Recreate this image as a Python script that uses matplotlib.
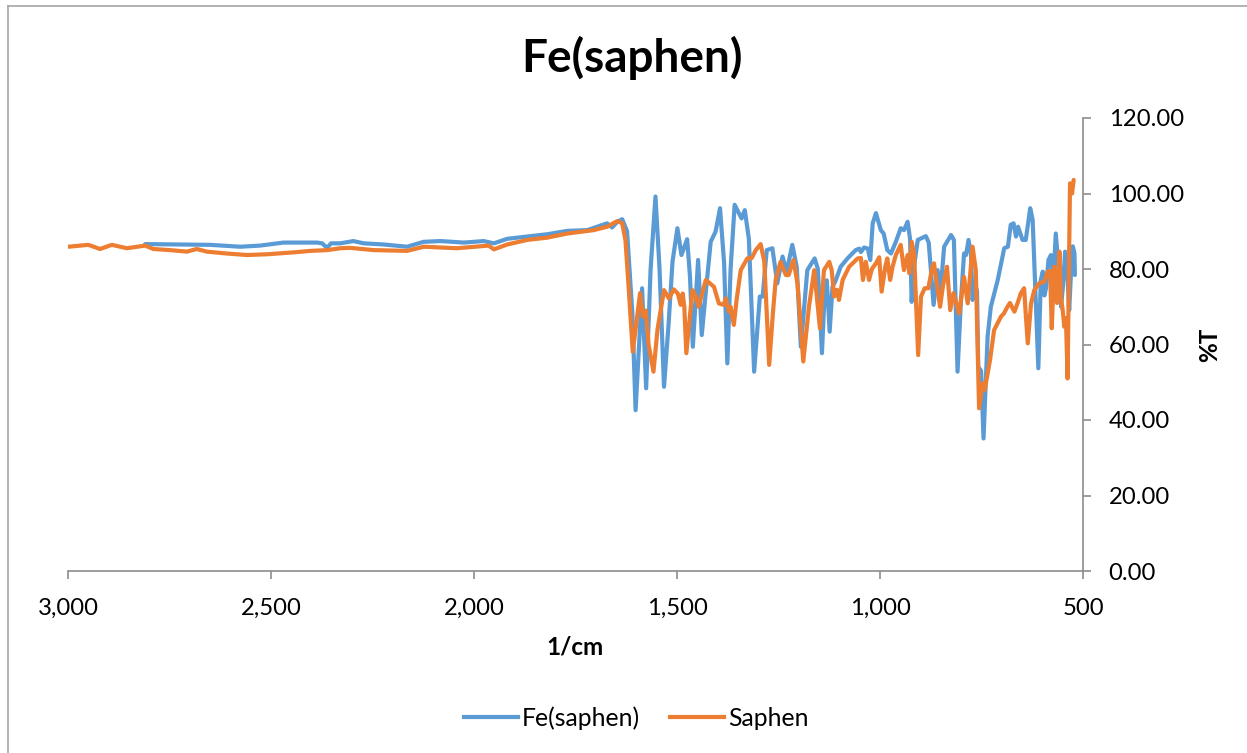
import matplotlib
matplotlib.use("Agg")
import matplotlib.pyplot as plt
from matplotlib.ticker import FuncFormatter, MultipleLocator
from matplotlib.lines import Line2D

# ---------------- data ----------------
fe_wavenumber = [2810, 2732, 2650, 2576, 2527, 2469, 2387, 2374, 2362, 2352, 2329, 2297, 2272, 2223,
                 2165, 2124, 2083, 2025, 1976, 1951, 1918, 1869, 1820, 1770, 1721, 1672, 1660, 1647,
                 1635, 1623, 1610, 1602, 1586, 1576, 1565, 1553, 1543, 1532, 1521, 1511, 1499, 1489,
                 1475, 1468, 1461, 1448, 1439, 1429, 1417, 1405, 1394, 1384, 1376, 1368, 1358, 1341,
                 1333, 1323, 1310, 1296, 1289, 1279, 1265, 1253, 1240, 1230, 1216, 1205, 1195, 1179,
                 1161, 1153, 1143, 1136, 1131, 1124, 1117, 1109, 1097, 1080, 1060, 1051, 1047, 1039,
                 1030, 1024, 1018, 1010, 998, 991, 982, 973, 961, 949, 941, 932, 926, 922, 917, 907,
                 887, 880, 868, 858, 852, 842, 825, 818, 809, 801, 793, 788, 782, 776, 772, 766, 761,
                 758, 751, 745, 735, 727, 710, 694, 685, 678, 671, 665, 660, 649, 641, 630, 624, 616,
                 610, 604, 599, 595, 591, 585, 579, 573, 567, 560, 554, 549, 544, 539, 534, 530, 525,
                 521, 520]
fe_T = [86.6, 86.5, 86.4, 85.9, 86.2, 87.0, 87.0, 86.8, 85.6, 86.8, 86.8, 87.4, 86.8, 86.5,
        85.9, 87.2, 87.4, 87.0, 87.4, 86.8, 88.0, 88.6, 89.2, 90.1, 90.3, 92.1, 91.0, 92.5,
        93.2, 90.0, 68.3, 42.6, 74.9, 48.4, 80.0, 99.2, 80.0, 48.8, 65.0, 82.0, 90.8, 83.7,
        87.9, 78.0, 59.4, 82.4, 62.5, 74.0, 87.2, 89.9, 96.1, 81.6, 55.0, 80.0, 97.0, 93.4,
        95.6, 88.0, 52.8, 72.7, 72.7, 85.0, 85.5, 76.2, 83.3, 79.3, 86.4, 80.5, 59.4, 79.7,
        82.8, 80.0, 57.7, 74.4, 77.0, 63.4, 75.3, 77.0, 80.6, 82.8, 85.0, 85.4, 84.5, 85.7,
        85.4, 82.4, 92.1, 94.8, 90.3, 89.4, 85.0, 84.1, 87.2, 90.8, 90.3, 92.5, 88.0, 71.3, 80.0, 87.7,
        88.7, 87.0, 70.5, 79.7, 72.7, 85.9, 89.0, 87.7, 52.8, 70.9, 84.1, 83.7, 87.7, 84.1, 71.8, 76.2, 74.0,
        54.1, 53.0, 35.1, 62.1, 70.0, 77.1, 85.5, 85.9, 91.7, 92.1, 88.6, 91.2, 87.7, 87.7, 96.1, 93.0, 70.9,
        53.7, 77.1, 79.3, 73.0, 75.0, 82.4, 83.7, 77.1, 89.4, 80.0, 70.0, 76.0, 84.6, 80.0, 69.1, 78.0, 86.0,
        84.1, 78.4]

saphen_wavenumber = [2999, 2979, 2950, 2921, 2892, 2855, 2810, 2790, 2749, 2707, 2683, 2658, 2609, 2559,
                     2510, 2445, 2403, 2362, 2329, 2305, 2247, 2165, 2124, 2042, 1964, 1951, 1918, 1869,
                     1820, 1770, 1705, 1672, 1647, 1635, 1627, 1619, 1609, 1602, 1591, 1584, 1577, 1570,
                     1558, 1548, 1532, 1520, 1508, 1498, 1491, 1486, 1482, 1477, 1462, 1455, 1447, 1429,
                     1409, 1397, 1385, 1380, 1372, 1368, 1360, 1353, 1343, 1327, 1316, 1306, 1294, 1285,
                     1273, 1264, 1257, 1245, 1232, 1225, 1213, 1203, 1189, 1175, 1162, 1148, 1138, 1125,
                     1119, 1113, 1106, 1101, 1092, 1076, 1055, 1047, 1042, 1035, 1027, 1020, 1010, 1002,
                     996, 987, 982, 975, 969, 961, 949, 941, 932, 928, 922, 916, 906, 899, 890, 881, 871,
                     867, 860, 852, 845, 835, 827, 819, 805, 793, 784, 772, 764, 756, 747, 742, 729, 719,
                     702, 695, 686, 680, 669, 661, 653, 645, 641, 636, 628, 620, 608, 595, 587, 581, 577,
                     571, 564, 558, 554, 550, 546, 542, 538, 532, 527, 523]
saphen_T = [85.9, 86.1, 86.4, 85.3, 86.4, 85.5, 86.2, 85.3, 85.0, 84.6, 85.3, 84.6, 84.1, 83.7,
            83.9, 84.4, 84.8, 85.0, 85.5, 85.6, 85.0, 84.8, 85.9, 85.5, 86.2, 85.2, 86.5, 87.7,
            88.3, 89.4, 90.3, 91.2, 92.7, 92.1, 87.7, 75.0, 58.1, 64.0, 73.6, 67.4, 69.0, 60.0,
            52.8, 64.0, 74.4, 72.2, 74.6, 73.5, 70.5, 73.5, 70.0, 57.7, 74.4, 73.0, 70.0, 77.1,
            75.3, 70.9, 70.5, 72.2, 68.7, 70.0, 65.2, 72.0, 79.7, 82.8, 82.9, 85.0, 86.6, 82.0,
            54.6, 68.0, 77.1, 81.9, 78.4, 78.4, 82.4, 76.0, 55.5, 70.0, 79.7, 64.3, 79.7, 81.9,
            79.7, 72.7, 74.5, 71.8, 77.1, 80.6, 82.8, 82.9, 77.1, 81.9, 77.1, 80.0, 81.5, 83.1,
            74.0, 80.6, 82.8, 77.1, 80.6, 83.7, 86.4, 79.7, 83.7, 78.9, 87.2, 84.1, 57.2, 72.7, 74.9, 74.9, 80.6,
            81.5, 76.0, 70.0, 75.5, 80.6, 69.1, 73.6, 68.2, 77.9, 70.9, 85.9, 79.7, 43.1, 49.7, 48.0, 55.9, 63.8,
            67.4, 68.2, 70.0, 71.0, 68.7, 71.0, 73.6, 74.9, 68.0, 60.3, 70.9, 74.4, 76.2, 76.7, 79.3, 79.5, 64.3,
            80.6, 71.0, 84.6, 72.0, 69.1, 64.7, 67.0, 51.0, 102.7, 100.0, 103.6]

series_labels = ["Fe(saphen)", "Saphen"]
title_text = "Fe(saphen)"
x_label = "1/cm"
y_label = "%T"

# ---------------- figure ----------------
W, H = 1247, 753
plt.rcParams['font.family'] = ['Lato', 'DejaVu Sans']
fig = plt.figure(figsize=(W / 100, H / 100), dpi=100)
ax = fig.add_axes([68 / W, (H - 571) / H, (1083 - 68) / W, (571 - 118) / H])

blue = "#5B9BD5"
orange = "#ED7D31"
LW = 3.0
ax.plot(fe_wavenumber, fe_T, color=blue, lw=LW, label=series_labels[0],
        solid_joinstyle="round", solid_capstyle="round")
ax.plot(saphen_wavenumber, saphen_T, color=orange, lw=LW, label=series_labels[1],
        solid_joinstyle="round", solid_capstyle="round")

ax.set_xlim(3000, 500)
ax.set_ylim(0, 120)
ax.xaxis.set_major_locator(MultipleLocator(500))
ax.yaxis.set_major_locator(MultipleLocator(20))
ax.xaxis.set_major_formatter(FuncFormatter(lambda v, p: f"{v:,.0f}"))
ax.yaxis.set_major_formatter(FuncFormatter(lambda v, p: f"{v:.2f}"))

ax.yaxis.tick_right()
ax.yaxis.set_label_position("right")
for s in ["top", "left"]:
    ax.spines[s].set_visible(False)
for s in ["bottom", "right"]:
    ax.spines[s].set_color("#8C8C8C")
    ax.spines[s].set_linewidth(1.2)
ax.tick_params(axis="both", direction="out", length=5.5, width=1.2, color="#8C8C8C",
               labelsize=17.2, labelcolor="black")
ax.tick_params(axis="x", pad=14)
ax.tick_params(axis="y", pad=13)

fig.text(575 / W, 1 - 647 / H, x_label, ha="center", va="center", fontsize=17.5, fontweight="bold")
fig.text(1210 / W, 1 - 345 / H, y_label, ha="center", va="center", fontsize=17.5,
         fontweight="bold", rotation=90)
fig.text(632 / W, 1 - 58 / H, title_text, ha="center", va="center", fontsize=33, fontweight="bold")

handles = [Line2D([], [], color=blue, lw=LW), Line2D([], [], color=orange, lw=LW)]
fig.legend(handles, series_labels, loc="center", bbox_to_anchor=(636 / W, 1 - 718 / H),
           ncol=2, frameon=False, fontsize=17.8, handlelength=2.2, handletextpad=0.15,
           columnspacing=1.2)

# chart frame (partially visible)
fig.add_artist(Line2D([7.5 / W, 1], [1 - 5.5 / H, 1 - 5.5 / H], color="#A6A6A6", lw=1.2))
fig.add_artist(Line2D([7.5 / W, 7.5 / W], [0, 1 - 5.5 / H], color="#A6A6A6", lw=1.2))

fig.savefig("out.png", dpi=100)
